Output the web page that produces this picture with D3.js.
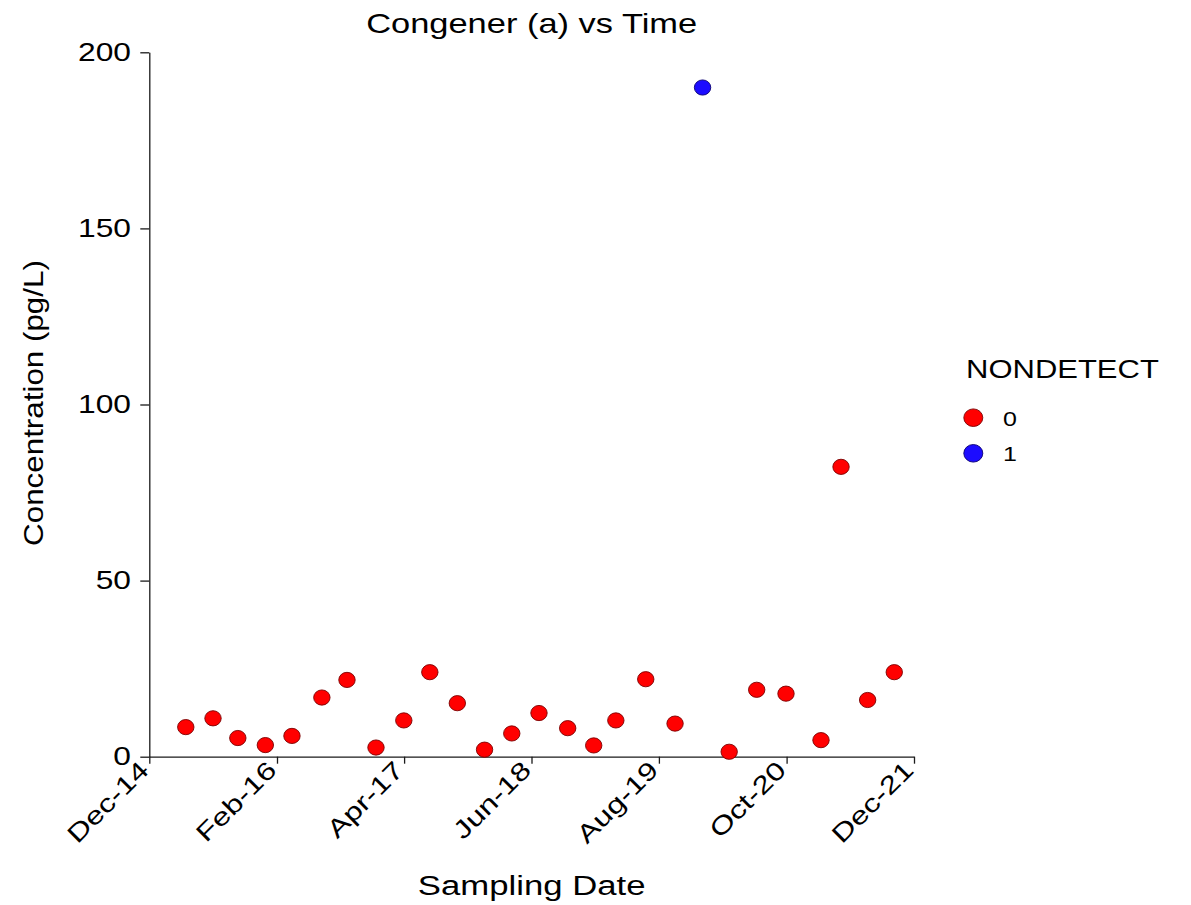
<!DOCTYPE html>
<html>
<head>
<meta charset="utf-8">
<script src="https://cdn.jsdelivr.net/npm/d3@7"></script>
<style>
  html, body { margin: 0; padding: 0; background: #fff; }
  text { font-family: "Liberation Sans", Arial, sans-serif; fill: #000; }
</style>
</head>
<body>
<svg id="chart" width="1191" height="905"></svg>
<script>
// Sampling dates, measured concentrations (pg/L) and nondetect flags
const sampleDates = [
  "2015-04-02", "2015-07-02", "2015-09-23", "2015-12-24", "2016-03-22",
  "2016-06-30", "2016-09-22", "2016-12-28", "2017-03-31", "2017-06-26",
  "2017-09-26", "2017-12-26", "2018-03-27", "2018-06-26", "2018-09-30",
  "2018-12-26", "2019-03-10", "2019-06-18", "2019-09-24", "2019-12-25",
  "2020-03-23", "2020-06-23", "2020-09-29", "2021-01-24", "2021-04-01",
  "2021-06-29", "2021-09-26"
];
const concentration = [
  8.4, 10.9, 5.3, 3.3, 5.9,
  16.8, 21.8, 2.6, 10.3, 24.0,
  15.2, 2.0, 6.6, 12.4, 8.1,
  3.2, 10.3, 22.0, 9.4, 190.0,
  1.4, 19.0, 17.9, 4.7, 82.3,
  16.1, 24.0
];
const nondetect = [
  0, 0, 0, 0, 0,
  0, 0, 0, 0, 0,
  0, 0, 0, 0, 0,
  0, 0, 0, 0, 1,
  0, 0, 0, 0, 0,
  0, 0
];

const xTickDates = ["2014-12-01", "2016-02-01", "2017-04-01", "2018-06-01",
                    "2019-08-01", "2020-10-01", "2021-12-01"];
const yTicks = [0, 50, 100, 150, 200];
const legendKeys = [0, 1];
const legendTitle = "NONDETECT";
const chartTitle = "Congener (a) vs Time";
const xTitle = "Sampling Date";
const yTitle = "Concentration (pg/L)";

const parse = d3.utcParse("%Y-%m-%d");
const points = sampleDates.map((d, i) => ({
  date: parse(d), value: concentration[i], nd: nondetect[i]
}));

const plot = { left: 149.3, right: 914, top: 52.3, bottom: 756.7 };
const WIDE = 1.25; // horizontal glyph stretch

const svg = d3.select("#chart");

const x = d3.scaleUtc()
  .domain([parse(xTickDates[0]), parse(xTickDates[xTickDates.length - 1])])
  .range([plot.left, plot.right]);
const y = d3.scaleLinear().domain([0, 200]).range([plot.bottom, plot.top]);
const color = d3.scaleOrdinal().domain(legendKeys).range(["#ff0000", "#1c0cff"]);
const edge = d3.scaleOrdinal().domain(legendKeys).range(["#7a0000", "#0a0070"]);

function wideText(g, str, size, tx, ty, rot, anchor, sx) {
  return g.append("text")
    .attr("transform", `translate(${tx},${ty}) rotate(${rot}) scale(${sx || WIDE},1)`)
    .attr("text-anchor", anchor)
    .style("font-size", size + "px")
    .text(str);
}

// Y axis
const yAxis = svg.append("g")
  .attr("transform", `translate(${plot.left},0)`)
  .call(d3.axisLeft(y).tickValues(yTicks).tickSize(9).tickSizeOuter(0).tickFormat(""));
yAxis.selectAll("path, line").attr("stroke", "#1a1a1a").attr("stroke-width", 1.3);
yTicks.forEach(v => {
  wideText(svg, String(v), 25, 131, y(v) + 8.5, 0, "end", 1.27);
});

// X axis
const xAxis = svg.append("g")
  .attr("transform", `translate(0,${plot.bottom})`)
  .call(d3.axisBottom(x).tickValues(xTickDates.map(parse)).tickSize(7)
        .tickSizeOuter(0).tickFormat(""));
xAxis.selectAll("path, line").attr("stroke", "#1a1a1a").attr("stroke-width", 1.3);
const fmt = d3.utcFormat("%b-%y");
xTickDates.map(parse).forEach(d => {
  wideText(svg, fmt(d), 25, x(d) + 1, plot.bottom + 15, -45, "end", 1.28);
});

// Points
svg.append("g").selectAll("ellipse")
  .data(points)
  .join("ellipse")
  .attr("cx", d => x(d.date))
  .attr("cy", d => y(d.value))
  .attr("rx", 8.2)
  .attr("ry", 7.6)
  .attr("fill", d => color(d.nd))
  .attr("stroke", d => edge(d.nd))
  .attr("stroke-width", 0.9);

// Titles
wideText(svg, chartTitle, 28, (plot.left + plot.right) / 2, 32.5, 0, "middle", 1.23);
wideText(svg, xTitle, 28, (plot.left + plot.right) / 2, 895, 0, "middle", 1.24);
wideText(svg, yTitle, 28, 43, 403, -90, "middle", 1.12);

// Legend
const legend = svg.append("g");
wideText(legend, legendTitle, 25, 966, 378, 0, "start", 1.24);
legendKeys.forEach((k, i) => {
  const cy = 417.7 + i * 35.6;
  legend.append("ellipse")
    .attr("cx", 973.3).attr("cy", cy)
    .attr("rx", 9.5).attr("ry", 8.8)
    .attr("fill", color(k)).attr("stroke", edge(k)).attr("stroke-width", 0.9);
  wideText(legend, String(k), 20, 1003, cy + 8, 0, "start", 1.25);
});
</script>
</body>
</html>
